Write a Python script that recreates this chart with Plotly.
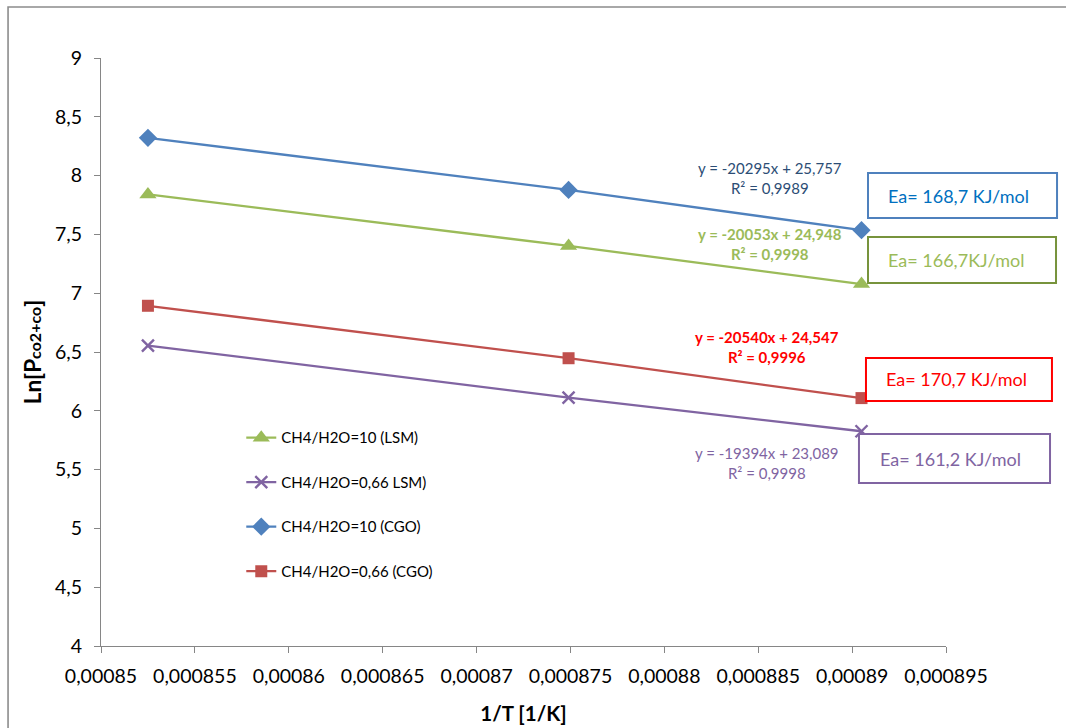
import plotly.graph_objects as go

# Inverse temperature (1/K) for the three operating points
inv_T = [0.0008525, 0.0008749, 0.0008905]

# ln of CO2+CO partial pressure for each feed ratio / electrode
lsm_10 = [7.840, 7.402, 7.078]
lsm_066 = [6.555, 6.112, 5.826]
cgo_10 = [8.321, 7.878, 7.536]
cgo_066 = [6.893, 6.447, 6.108]

names = ["CH4/H2O=10 (LSM)", "CH4/H2O=0,66 LSM)", "CH4/H2O=10 (CGO)", "CH4/H2O=0,66 (CGO)"]

fit_texts = [
    "y = -20053x + 24,948<br>R² = 0,9998",
    "y = -19394x + 23,089<br>R² = 0,9998",
    "y = -20295x + 25,757<br>R² = 0,9989",
    "y = -20540x + 24,547<br>R² = 0,9996",
]
ea_texts = ["Ea= 166,7KJ/mol", "Ea= 161,2 KJ/mol", "Ea= 168,7 KJ/mol", "Ea= 170,7 KJ/mol"]

x_ticks = [0.00085, 0.000855, 0.00086, 0.000865, 0.00087, 0.000875, 0.00088, 0.000885, 0.00089, 0.000895]
y_ticks = [4, 4.5, 5, 5.5, 6, 6.5, 7, 7.5, 8, 8.5, 9]

FONT = "Lato, 'Open Sans', sans-serif"

series = [
    (names[0], lsm_10, "#9BBB59", dict(symbol="triangle-up", size=15, color="#9BBB59")),
    (names[1], lsm_066, "#8064A2", dict(symbol="x-thin-open", size=12, color="#8064A2",
                                         line=dict(width=2.4, color="#8064A2"))),
    (names[2], cgo_10, "#4F81BD", dict(symbol="diamond", size=14, color="#4F81BD")),
    (names[3], cgo_066, "#C0504D", dict(symbol="square", size=12, color="#C0504D")),
]

fig = go.Figure()
for i, (nm, ys, col, mk) in enumerate(series):
    fig.add_trace(go.Scatter(
        x=inv_T, y=ys, name=nm, mode="lines+markers",
        line=dict(color=col, width=2.3), marker=mk,
        legendgroup=f"g{i}", legendrank=i + 1,
    ))

# Fit equations (paper coordinates)
fit_styles = [
    dict(x=0.7917, y=0.684, color="#9BBB59", bold=True),
    dict(x=0.7880, y=0.311, color="#8064A2", bold=False),
    dict(x=0.7917, y=0.796, color="#2C4D75", bold=False),
    dict(x=0.7880, y=0.508, color="#FF0000", bold=True),
]
annotations = []
for txt, st in zip(fit_texts, fit_styles):
    t = "<br>".join(f"<b>{p}</b>" for p in txt.split("<br>")) if st["bold"] else txt
    annotations.append(dict(
        x=st["x"], y=st["y"], xref="paper", yref="paper", text=t, showarrow=False,
        xanchor="center", yanchor="middle", align="center",
        font=dict(family=FONT, size=15, color=st["color"]),
    ))

# Activation energy boxes
box_styles = [
    dict(x0=0.9077, x1=1.1302, y0=0.6173, y1=0.6956, line="#77933C", text="#9BBB59", tx=0.929),
    dict(x0=0.8970, x1=1.1231, y0=0.2772, y1=0.3605, line="#8064A2", text="#8064A2", tx=0.9195),
    dict(x0=0.9077, x1=1.1314, y0=0.7279, y1=0.8044, line="#4F81BD", text="#0070C0", tx=0.929),
    dict(x0=0.9053, x1=1.1254, y0=0.4167, y1=0.4898, line="#FF0000", text="#FF0000", tx=0.9266),
]
shapes = []
for txt, b in zip(ea_texts, box_styles):
    shapes.append(dict(type="rect", xref="paper", yref="paper",
                       x0=b["x0"], x1=b["x1"], y0=b["y0"], y1=b["y1"],
                       line=dict(color=b["line"], width=2), fillcolor="white", layer="above"))
    annotations.append(dict(
        x=b["tx"], y=(b["y0"] + b["y1"]) / 2, xref="paper", yref="paper", text=txt,
        showarrow=False, xanchor="left", yanchor="middle",
        font=dict(family=FONT, size=18, color=b["text"]),
    ))

# Outer chart frame
shapes.append(dict(type="rect", xref="paper", yref="paper",
                   x0=-0.110, x1=1.3, y0=-0.3, y1=1.0867,
                   line=dict(color="#8C8C8C", width=1.6), layer="below"))

fig.update_layout(
    width=1066, height=728,
    margin=dict(l=101, r=120, t=58, b=82),
    paper_bgcolor="white", plot_bgcolor="white",
    separators=", ",
    font=dict(family=FONT, size=19, color="black"),
    showlegend=True,
    legend=dict(x=0.166, y=0.382, xanchor="left", yanchor="top",
                bgcolor="rgba(0,0,0,0)", tracegroupgap=22,
                font=dict(family=FONT, size=15, color="black")),
    shapes=shapes,
    annotations=annotations,
)

fig.update_xaxes(
    range=[x_ticks[0], x_ticks[-1]], tickvals=x_ticks, tickformat=".6~f",
    showgrid=False, zeroline=False, showline=True, linecolor="#868686", linewidth=1,
    ticks="outside", ticklen=6, tickcolor="#868686", ticklabelstandoff=7,
    tickfont=dict(family=FONT, size=19.5, color="black"), automargin=False,
    title=dict(text="<b>1/T [1/K]</b>", font=dict(family=FONT, size=20.5, color="black"), standoff=20),
)
fig.update_yaxes(
    range=[y_ticks[0], y_ticks[-1]], tickvals=y_ticks, tickformat=".1~f",
    showgrid=False, zeroline=False, showline=True, linecolor="#868686", linewidth=1,
    ticks="outside", ticklen=6, tickcolor="#868686", ticklabelstandoff=8,
    tickfont=dict(family=FONT, size=19.5, color="black"), automargin=False,
    title=dict(text="<b>Ln[P<span style='font-size:16px'>co2+co</span>]</b>",
               font=dict(family=FONT, size=22.5, color="black"), standoff=7),
)

fig.write_html("out.html")
